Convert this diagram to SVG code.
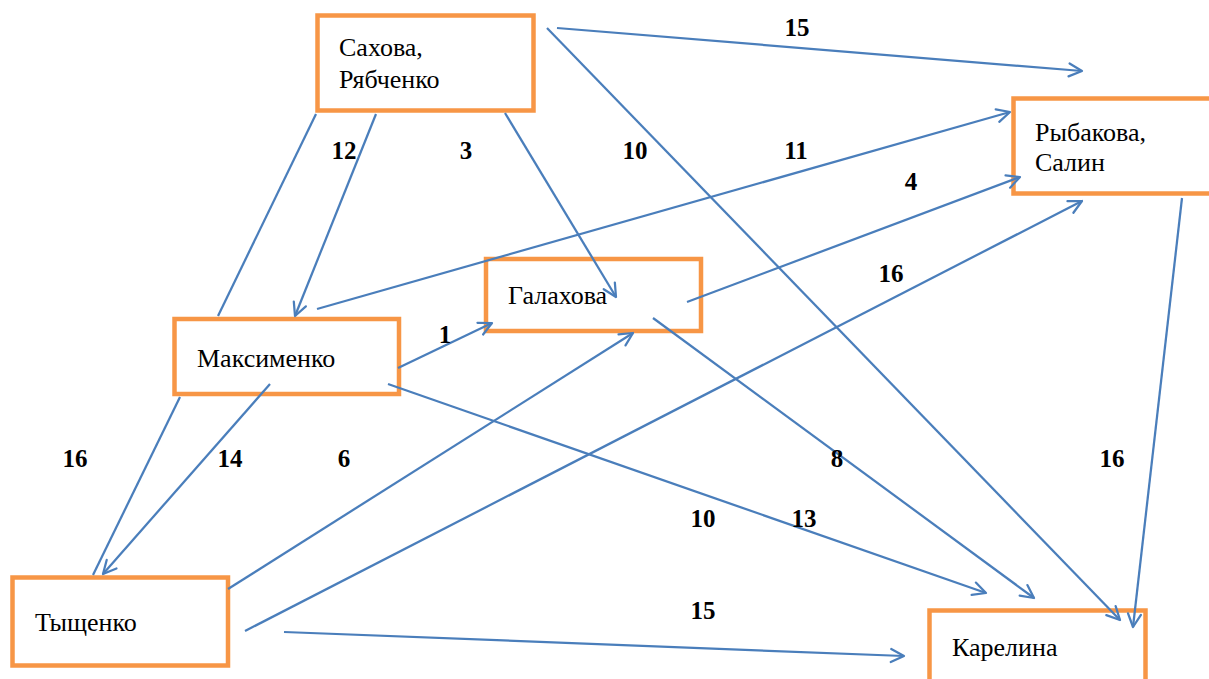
<svg xmlns="http://www.w3.org/2000/svg" width="1209" height="679" viewBox="0 0 1209 679">
<style>
.node rect{fill:#fff;stroke:#F79646;stroke-width:4.5}
.node text{font-size:26px;fill:#000}
.edges line{stroke:#4A7EBB;stroke-width:2.25;fill:none}
.lbl{font-size:25px;font-weight:bold;fill:#000;text-anchor:middle}
</style>
<defs>
<marker id="arr" viewBox="-16 -10 18 20" refX="0" refY="0" markerWidth="18" markerHeight="20" markerUnits="userSpaceOnUse" orient="auto" overflow="visible">
<path d="M-13,-6.5 L0,0 L-13,6.5" fill="none" stroke="#4A7EBB" stroke-width="2.25" stroke-linecap="round" stroke-linejoin="round"/>
</marker>
</defs>
<rect width="1209" height="679" fill="#fff"/>
<g font-family="Liberation Serif, DejaVu Serif, serif">
<g id="n-sakhova" class="node"><rect x="317.5" y="15.5" width="216" height="95"/><text x="339" y="56">Сахова,</text><text x="339" y="88">Рябченко</text></g>
<g id="n-rybakova" class="node"><rect x="1013.5" y="98.5" width="220" height="95"/><text x="1035" y="141">Рыбакова,</text><text x="1035" y="171">Салин</text></g>
<g id="n-galakhova" class="node"><rect x="486" y="259" width="215" height="72"/><text x="508" y="304">Галахова</text></g>
<g id="n-maksimenko" class="node"><rect x="174.5" y="319" width="224.5" height="75"/><text x="197" y="367">Максименко</text></g>
<g id="n-tyshchenko" class="node"><rect x="12.5" y="577.5" width="215.5" height="88"/><text x="35" y="631">Тыщенко</text></g>
<g id="n-karelina" class="node"><rect x="929.5" y="610.5" width="216" height="100"/><text x="952" y="656">Карелина</text></g>
</g>
<g id="edges" class="edges">
<line x1="557" y1="28" x2="1082" y2="71" marker-end="url(#arr)"/>
<line x1="547" y1="28" x2="1120" y2="620" marker-end="url(#arr)"/>
<line x1="376" y1="114" x2="295" y2="316" marker-end="url(#arr)"/>
<line x1="316" y1="114" x2="218" y2="316"/>
<line x1="505" y1="113" x2="616" y2="297" marker-end="url(#arr)"/>
<line x1="317" y1="309" x2="1010" y2="112" marker-end="url(#arr)"/>
<line x1="687" y1="302" x2="1020" y2="177" marker-end="url(#arr)"/>
<line x1="245" y1="631" x2="1082" y2="201" marker-end="url(#arr)"/>
<line x1="398" y1="368" x2="492" y2="323" marker-end="url(#arr)"/>
<line x1="228" y1="589" x2="633" y2="333" marker-end="url(#arr)"/>
<line x1="653" y1="318" x2="1034" y2="598" marker-end="url(#arr)"/>
<line x1="388" y1="384" x2="986" y2="593" marker-end="url(#arr)"/>
<line x1="1182" y1="198" x2="1133" y2="627" marker-end="url(#arr)"/>
<line x1="270" y1="384" x2="103" y2="574" marker-end="url(#arr)"/>
<line x1="180" y1="397" x2="93" y2="575"/>
<line x1="284" y1="632" x2="904" y2="656" marker-end="url(#arr)"/>
</g>
<g id="labels" font-family="Liberation Serif, DejaVu Serif, serif">
<text class="lbl" x="797" y="36">15</text>
<text class="lbl" x="344" y="159">12</text>
<text class="lbl" x="466" y="159">3</text>
<text class="lbl" x="635" y="159">10</text>
<text class="lbl" x="796" y="159">11</text>
<text class="lbl" x="911" y="190">4</text>
<text class="lbl" x="891" y="282">16</text>
<text class="lbl" x="445" y="343">1</text>
<text class="lbl" x="75" y="467">16</text>
<text class="lbl" x="230" y="467">14</text>
<text class="lbl" x="344" y="467">6</text>
<text class="lbl" x="837" y="467">8</text>
<text class="lbl" x="1112" y="467">16</text>
<text class="lbl" x="703" y="527">10</text>
<text class="lbl" x="804" y="527">13</text>
<text class="lbl" x="703" y="619">15</text>
</g>
</svg>
